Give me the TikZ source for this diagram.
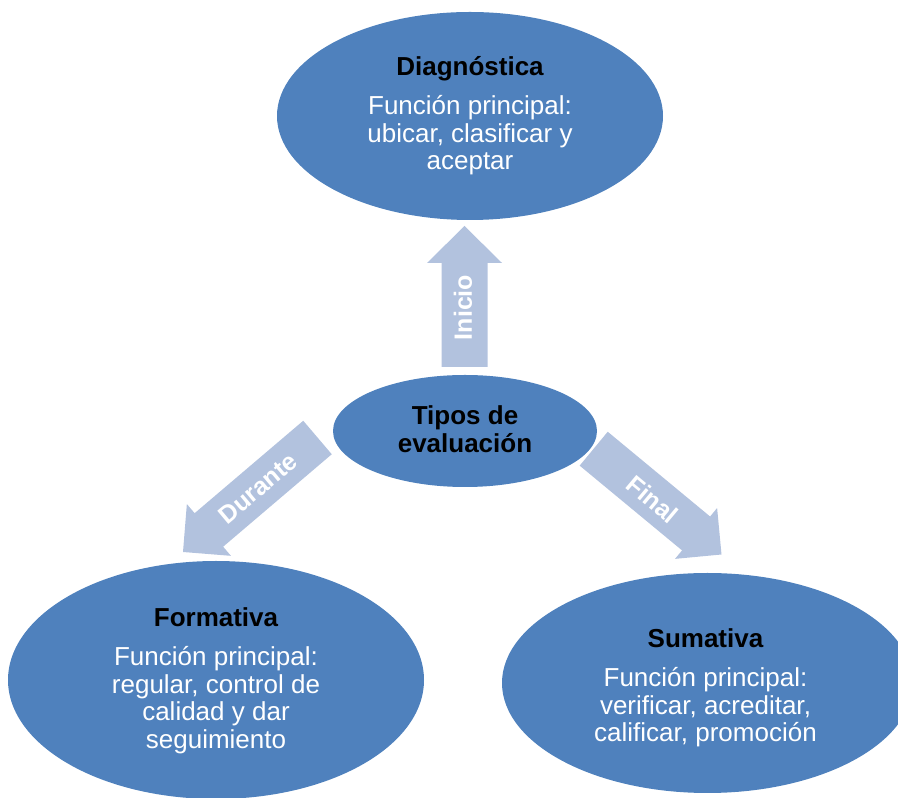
\documentclass[tikz,border=0pt]{standalone}
\usepackage{fontspec}
\setmainfont{Liberation Sans}
\usetikzlibrary{calc,shapes.geometric}

\definecolor{ovalblue}{RGB}{79,129,189}
\definecolor{arrowblue}{RGB}{178,194,222}

\tikzset{
  oval/.style={ellipse, fill=ovalblue, inner sep=0pt},
  ovaltext/.style={anchor=base, inner sep=0pt,
    font=\fontsize{26pt}{27.5pt}\selectfont, text=white},
  arrowlabel/.style={inner sep=0pt,
    font=\fontsize{25pt}{27pt}\selectfont\bfseries, text=white},
}

% title in black bold, then the white body lines; the box's baseline is the title's
\newcommand\ovallines[2]{\parbox[t]{420pt}{\centering\leavevmode
  {\color{black}\bfseries #1}\\[11.5pt]#2}}

% block arrow from #1 (tail) to #2 (tip):
% #3 half shaft width, #4 half head width, #5 head length
\newcommand\blockarrow[5]{%
  \fill[arrowblue] let \p1=($(#2)-(#1)$), \n1={atan2(\y1,\x1)},
      \n2={veclen(\x1,\y1)-#5} in
    ($(#1)+(\n1+90:#3)$) -- ($(#1)+(\n1:\n2)+(\n1+90:#3)$)
    -- ($(#1)+(\n1:\n2)+(\n1+90:#4)$) -- (#2)
    -- ($(#1)+(\n1:\n2)+(\n1-90:#4)$) -- ($(#1)+(\n1:\n2)+(\n1-90:#3)$)
    -- ($(#1)+(\n1-90:#3)$) -- cycle;}

\begin{document}
\begin{tikzpicture}[x=1pt,y=1pt]
\useasboundingbox (0,0) rectangle (898,798);

% arrow ends
\coordinate (inicioTail) at (464.5,431);
\coordinate (inicioTip)  at (464.5,572);
\coordinate (duranteTail) at (317.5,360.5);
\coordinate (duranteTip)  at (183,246);
\coordinate (finalTail) at (593.7,349.3);
\coordinate (finalTip)  at (721.5,243.5);

% arrows (under the ovals)
\blockarrow{inicioTail}{inicioTip}{23}{37.5}{37}
\blockarrow{duranteTail}{duranteTip}{22}{34}{34}
\blockarrow{finalTail}{finalTip}{22}{33}{33}

% ovals
\node[oval, minimum width=386pt, minimum height=208pt] (diag) at (470,682) {};
\node[oval, minimum width=264pt, minimum height=112pt] (tipos) at (465,367) {};
\node[oval, minimum width=416pt, minimum height=238pt] (form) at (216,118) {};
\node[oval, minimum width=411pt, minimum height=220pt] (sum) at (707.5,115) {};

% oval texts
\node[ovaltext] (diagText) at (470,722)
  {\ovallines{Diagnóstica}{Función principal:\\ubicar, clasificar y\\aceptar}};
\node[ovaltext] (tiposText) at (465,373)
  {\parbox[t]{420pt}{\centering\leavevmode\color{black}\bfseries Tipos de\\evaluación}};
\node[ovaltext] (formText) at (216,171)
  {\ovallines{Formativa}{Función principal:\\regular, control de\\calidad y dar\\seguimiento}};
\node[ovaltext] (sumText) at (705.5,150)
  {\ovallines{Sumativa}{Función principal:\\verificar, acreditar,\\calificar, promoción}};

% arrow labels
\node[arrowlabel, rotate=90] (inicioLabel) at (463,490.5) {Inicio};
\node[arrowlabel, rotate=40] (duranteLabel) at (258,309.5) {Durante};
\node[arrowlabel, rotate=-40] (finalLabel) at (652.5,298.5) {Final};
\end{tikzpicture}
\end{document}
